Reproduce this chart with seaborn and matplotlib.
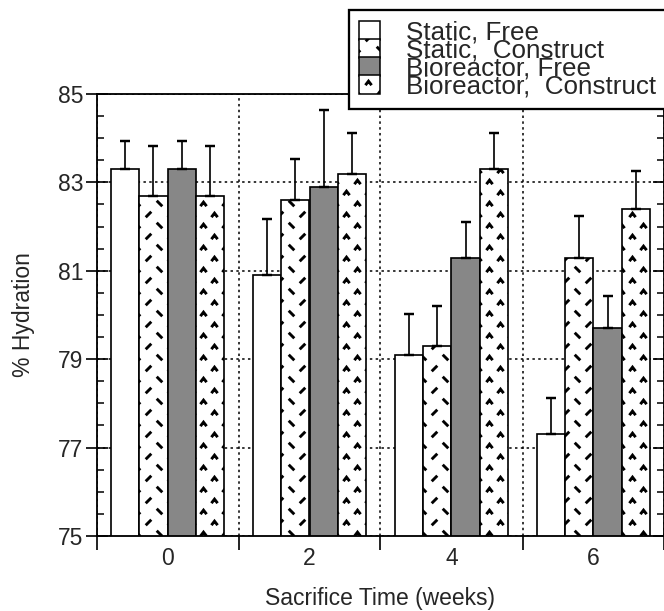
import warnings
warnings.filterwarnings("ignore")
import numpy as np
import pandas as pd
import matplotlib
matplotlib.use("Agg")
import matplotlib.pyplot as plt
import matplotlib.hatch as mhatch
from matplotlib.path import Path
from matplotlib.patches import Patch
from matplotlib.ticker import MultipleLocator
import seaborn as sns

# ---------------- data ----------------
weeks = ["0", "2", "4", "6"]
conditions = ["Static, Free", "Static,  Construct", "Bioreactor, Free", "Bioreactor,  Construct"]
static_free = [83.3, 80.9, 79.1, 77.3]
static_construct = [82.7, 82.6, 79.3, 81.3]
bio_free = [83.3, 82.9, 81.3, 79.7]
bio_construct = [82.7, 83.2, 83.3, 82.4]
err_static_free = [0.63, 1.28, 0.93, 0.82]
err_static_construct = [1.12, 0.93, 0.90, 0.94]
err_bio_free = [0.64, 1.74, 0.80, 0.74]
err_bio_construct = [1.12, 0.91, 0.82, 0.85]
yticks = [75, 77, 79, 81, 83, 85]

values = [static_free, static_construct, bio_free, bio_construct]
errors = [err_static_free, err_static_construct, err_bio_free, err_bio_construct]
df = pd.DataFrame({
    "week": np.repeat([weeks], 4, axis=0).ravel(),
    "condition": np.repeat(conditions, 4),
    "hydration": np.ravel(values),
})

# ---------------- custom hatch patterns ----------------
PERIODS = 5


class _MarkHatch(mhatch.HatchPatternBase):
    char = None
    segments = []

    def __init__(self, hatch, density):
        self.n = PERIODS if (hatch and self.char in hatch) else 0
        self.num_vertices = self.n * self.n * sum(len(s) for s in self.segments)

    def set_vertices_and_codes(self, vertices, codes):
        k = 0
        step = 1.0 / self.n
        for i in range(self.n):
            for j in range(self.n):
                x0, y0 = i * step, j * step
                for seg in self.segments:
                    pts = [(x0 + sx * step, y0 + sy * step) for sx, sy in seg]
                    m = len(pts)
                    vertices[k:k + m] = pts
                    codes[k] = Path.MOVETO
                    codes[k + 1:k + m] = Path.LINETO
                    k += m


class DashHatch(_MarkHatch):
    char = "k"
    segments = [[(0.17, 0.83), (0.33, 0.67)], [(0.67, 0.17), (0.83, 0.33)]]


class CaretHatch(_MarkHatch):
    char = "n"
    segments = [[(0.15, 0.68), (0.25, 0.81), (0.35, 0.68)],
                [(0.65, 0.18), (0.75, 0.31), (0.85, 0.18)]]


mhatch._hatch_types.extend([DashHatch, CaretHatch])

# ---------------- style ----------------
sns.set_style("ticks")
plt.rcParams["font.family"] = ["Liberation Sans", "DejaVu Sans"]
plt.rcParams["hatch.linewidth"] = 1.9
plt.rcParams["hatch.color"] = "black"

DPI = 110
fig = plt.figure(figsize=(664 / DPI, 611 / DPI), dpi=DPI)
ax = fig.add_axes([96.5 / 664, 75 / 611, 568 / 664, 442 / 611])

face = ["white", "white", "#878787", "white"]
hatches = [None, "k", None, "n"]

sns.barplot(data=df, x="week", y="hydration", hue="condition", order=weeks,
            hue_order=conditions, errorbar=None, palette=face, saturation=1,
            edgecolor="black", linewidth=1.1, legend=False, ax=ax, zorder=2)

for cont, h, errs in zip(ax.containers, hatches, errors):
    xs, ys = [], []
    for p in cont.patches:
        p.set_edgecolor("black")
        if h:
            p.set_hatch(h)
        xs.append(p.get_x() + p.get_width() / 2)
        ys.append(p.get_height())
    ax.errorbar(xs, ys, yerr=[np.zeros(len(errs)), errs], fmt="none",
                ecolor="black", elinewidth=1.1, capsize=3.5, capthick=1.6, zorder=3)

ax.set_xlim(-0.5, 3.5)
ax.set_ylim(75, 85)
ax.set_axisbelow(True)

# x ticks: boundaries (major, unlabeled), centers (minor, labeled)
ax.set_xticks([-0.5, 0.5, 1.5, 2.5, 3.5])
ax.set_xticklabels([])
ax.set_xticks([0, 1, 2, 3], minor=True)
ax.set_xticklabels(weeks, minor=True, fontsize=15)
ax.tick_params(axis="x", which="major", direction="out", length=9, width=1.1,
               top=False, color="black")
ax.tick_params(axis="x", which="minor", length=0, pad=7, top=False)

ax.set_yticks(yticks)
ax.set_yticklabels([str(v) for v in yticks], fontsize=15)
ax.yaxis.set_minor_locator(MultipleLocator(0.5))
ax.tick_params(axis="y", which="major", direction="inout", length=14, width=1.1,
               left=True, right=True, pad=1.5, color="black")
ax.tick_params(axis="y", which="minor", direction="in", length=4.5, width=1.0,
               left=True, right=True, color="black")

ax.grid(True, which="major", axis="both", color="black", linewidth=1.0,
        linestyle=(0, (1.6, 2.2)))

for s in ax.spines.values():
    s.set_visible(True)
    s.set_color("black")
    s.set_linewidth(1.2)

ax.set_xlabel("Sacrifice Time (weeks)", fontsize=15, labelpad=11)
ax.set_ylabel("% Hydration", fontsize=15, labelpad=15)

handles = [Patch(facecolor=c, edgecolor="black", hatch=h, linewidth=1.0)
           for c, h in zip(face, hatches)]
leg = ax.legend(handles, conditions, loc="upper left",
                bbox_to_anchor=(349 / 664, 1 - 10 / 611),
                bbox_transform=fig.transFigure, frameon=True, fancybox=False,
                framealpha=1, edgecolor="black", fontsize=17,
                handlelength=0.78, handleheight=0.77, handletextpad=1.0,
                labelspacing=-0.23, borderpad=0.4, borderaxespad=0)
leg.get_frame().set_linewidth(1.5)
leg.set_zorder(10)

fig.savefig("out.png", dpi=DPI)
